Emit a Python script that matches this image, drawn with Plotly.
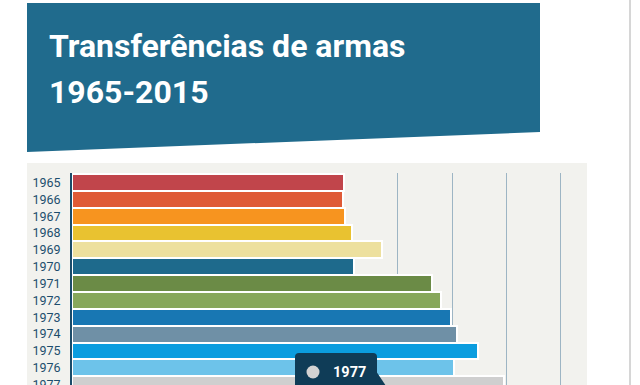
import plotly.graph_objects as go

# ---- data (grid step = 5 units) ----
years = ["1965", "1966", "1967", "1968", "1969", "1970", "1971",
         "1972", "1973", "1974", "1975", "1976", "1977"]
values = [25.0, 24.9, 25.1, 25.8, 28.5, 26.0, 33.1,
          34.0, 34.9, 35.4, 37.4, 35.2, 39.8]
bar_colors = ["#c1454b", "#df5a36", "#f7941f", "#e9c230", "#ede09e",
              "#1e6a8c", "#6b8b46", "#87a75b", "#1877b3", "#6f90a6",
              "#0b9ddf", "#6dc3ea", "#cfcfcf"]
title_line1 = "Transferências de armas"
title_line2 = "1965-2015"
tooltip_label = "1977"

# ---- layout geometry ----
W, H = 640, 385
L, R, T, B = 72, 53, 173, 0
PW, PH = W - L - R, H - T - B


def px(x):
    return (x - L) / PW


def py(y):
    return (H - B - y) / PH


FONT = "Roboto, Arial, sans-serif"

fig = go.Figure()
fig.add_trace(go.Bar(
    x=values, y=years, orientation="h",
    marker=dict(color=bar_colors, line=dict(color="#ffffff", width=2)),
    hoverinfo="skip",
))

shapes = []
# banner
shapes.append(dict(
    type="path", xref="paper", yref="paper", layer="below",
    path=f"M {px(27)},{py(3)} L {px(540)},{py(3)} L {px(540)},{py(132)} L {px(27)},{py(152)} Z",
    fillcolor="#206b8d", line=dict(width=0)))
# chart background
shapes.append(dict(
    type="rect", xref="paper", yref="paper", layer="below",
    x0=px(27), x1=px(587), y0=py(386), y1=py(163),
    fillcolor="#f2f2ee", line=dict(width=0)))
# right border line
shapes.append(dict(
    type="line", xref="paper", yref="paper", layer="above",
    x0=px(630), x1=px(630), y0=py(0), y1=py(386),
    line=dict(color="#d6d6d6", width=2)))
# tooltip box (rounded)
x0b, x1b, y0b, y1b, r = 295, 377, 353, 392, 4
shapes.append(dict(
    type="path", xref="paper", yref="paper", layer="above",
    path=(f"M {px(x0b + r)},{py(y0b)} L {px(x1b - r)},{py(y0b)} "
          f"Q {px(x1b)},{py(y0b)} {px(x1b)},{py(y0b + r)} "
          f"L {px(x1b)},{py(y1b)} L {px(x0b)},{py(y1b)} "
          f"L {px(x0b)},{py(y0b + r)} Q {px(x0b)},{py(y0b)} {px(x0b + r)},{py(y0b)} Z"),
    fillcolor="#0f3c57", line=dict(width=0)))
# tooltip arrow
shapes.append(dict(
    type="path", xref="paper", yref="paper", layer="above",
    path=f"M {px(376)},{py(371)} L {px(386)},{py(386)} L {px(376)},{py(386)} Z",
    fillcolor="#0f3c57", line=dict(width=0)))
# tooltip circle
shapes.append(dict(
    type="circle", xref="paper", yref="paper", layer="above",
    x0=px(306.5), x1=px(319.5), y0=py(378.5), y1=py(365.5),
    fillcolor="#d3d3d3", line=dict(width=0)))

annotations = [
    dict(text=f"<b>{title_line1}</b>", xref="paper", yref="paper",
         x=px(47), y=py(46), xanchor="left", yanchor="middle", showarrow=False,
         font=dict(family=FONT, size=32, color="#ffffff")),
    dict(text=f"<b>{title_line2}</b>", xref="paper", yref="paper",
         x=px(47), y=py(92), xanchor="left", yanchor="middle", showarrow=False,
         font=dict(family=FONT, size=32, color="#ffffff")),
    dict(text=f"<b>{tooltip_label}</b>", xref="paper", yref="paper",
         x=px(331), y=py(372), xanchor="left", yanchor="middle", showarrow=False,
         font=dict(family=FONT, size=14.5, color="#ffffff")),
]

fig.update_layout(
    width=W, height=H, autosize=False,
    margin=dict(l=L, r=R, t=T, b=B, pad=0),
    paper_bgcolor="#ffffff", plot_bgcolor="#f2f2ee",
    showlegend=False, bargap=0,
    shapes=shapes, annotations=annotations,
    xaxis=dict(range=[0, 47.4], dtick=5, tick0=0, showgrid=True,
               gridcolor="#9db5c4", gridwidth=1, zeroline=False,
               showticklabels=False, showline=False, fixedrange=True,
               automargin=False),
    yaxis=dict(type="category", categoryorder="array", categoryarray=years,
               range=[12.02, -0.56], showgrid=False, zeroline=False,
               showline=True, linecolor="#1b4c6a", linewidth=2,
               ticks="", ticklabelstandoff=7, automargin=False,
               tickfont=dict(family=FONT, size=12.5, color="#1d4e6d"),
               fixedrange=True),
)

fig.write_html("out.html", config={"displayModeBar": False},
               post_script="document.body.style.margin='0';document.body.style.overflow='hidden';")
